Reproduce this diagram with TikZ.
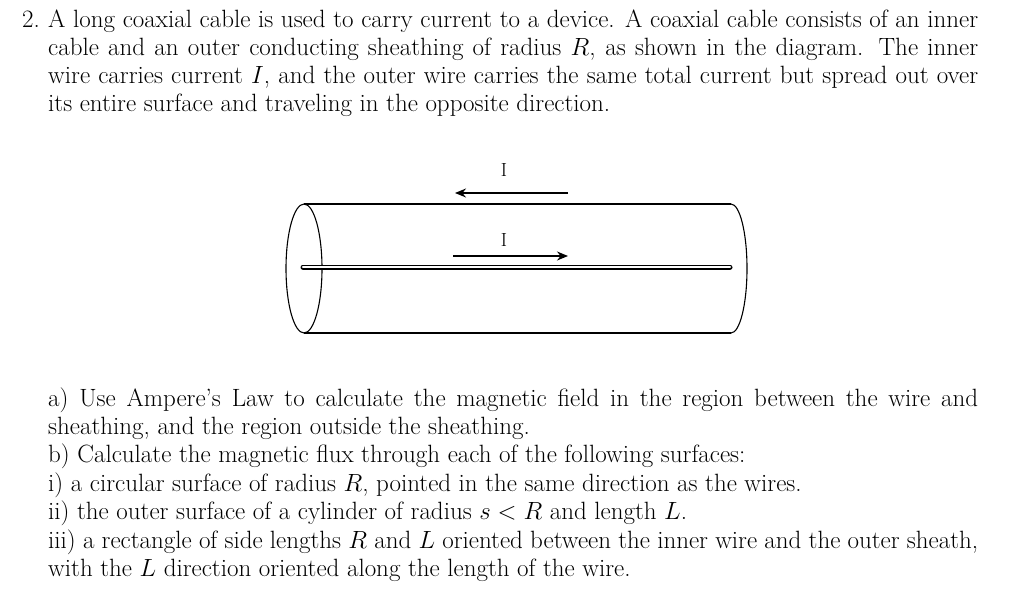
\documentclass[tikz,border=0pt]{standalone}
\usetikzlibrary{arrows.meta}
\begin{document}
\begin{tikzpicture}[x=1pt,y=-1pt,
  txt/.style={anchor=base west,inner sep=0pt,font=\fontsize{25}{30}\selectfont},
  ln/.style={line width=1.1pt},
  arr/.style={line width=1.4pt,-{Stealth[length=11pt,width=9pt]}}]
\useasboundingbox (0,0) rectangle (1024,591);
\node[txt] (n0) at (22,28) {2.};
\node[txt] (l1) at (48,28) {\hbox to 930pt{A long coaxial cable is used to carry current to a device. A coaxial cable consists of an inner}};
\node[txt] (l2) at (48,56) {\hbox to 930pt{cable and an outer conducting sheathing of radius $R$, as shown in the diagram. The inner}};
\node[txt] (l3) at (48,84) {\hbox to 930pt{wire carries current $I$, and the outer wire carries the same total current but spread out over}};
\node[txt] (l4) at (48,112) {its entire surface and traveling in the opposite direction.};
% cylinder
\draw[ln] (304,204) -- (731,204);
\draw[ln] (304,333) -- (731,333);
\draw[ln] (304,268.5) ellipse [x radius=18, y radius=64.5];
\draw[ln] (731,204) arc[start angle=-90,end angle=90,x radius=16,y radius=64.5];
\coordinate (wl) at (303,267); \coordinate (wr) at (730,267);
\draw[line width=5pt,line cap=round] (wl) -- (wr);
\draw[line width=2.6pt,white,line cap=round] (wl) -- (wr);
\coordinate (ta) at (568,193); \coordinate (tb) at (455,193);
\draw[arr] (ta) -- (tb);
\coordinate (ba) at (453,256); \coordinate (bb) at (568,256);
\draw[arr] (ba) -- (bb);
\node[font=\fontsize{19}{20}\selectfont] (i1) at (504,170) {I};
\node[font=\fontsize{19}{20}\selectfont] (i2) at (504,240) {I};
% questions
\node[txt] (q1) at (48,406) {\hbox to 930pt{a) Use Ampere's Law to calculate the magnetic field in the region between the wire and}};
\node[txt] (q2) at (48,434) {sheathing, and the region outside the sheathing.};
\node[txt] (q3) at (48,462) {b) Calculate the magnetic flux through each of the following surfaces:};
\node[txt] (q4) at (48,491) {i) a circular surface of radius $R$, pointed in the same direction as the wires.};
\node[txt] (q5) at (48,519) {ii) the outer surface of a cylinder of radius $s<R$ and length $L$.};
\node[txt] (q6) at (48,548) {\hbox to 930pt{iii) a rectangle of side lengths $R$ and $L$ oriented between the inner wire and the outer sheath,}};
\node[txt] (q7) at (48,576) {with the $L$ direction oriented along the length of the wire.};
\end{tikzpicture}
\end{document}
